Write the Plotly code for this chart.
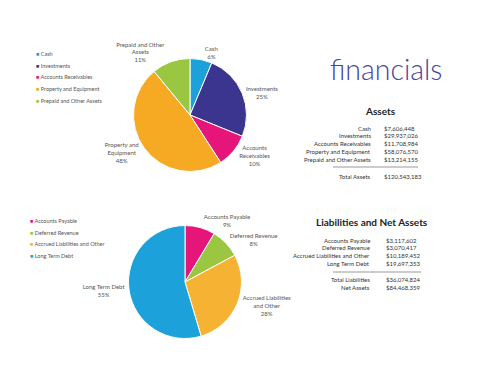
import plotly.graph_objects as go

# ---------------- data ----------------
asset_labels = ["Cash", "Investments", "Accounts Receivables", "Property and Equipment", "Prepaid and Other Assets"]
asset_text = ["Cash", "Investments", "Accounts<br>Receivables", "Property and<br>Equipment", "Prepaid and Other<br>Assets"]
asset_values = [7606448, 29937026, 11708984, 58076570, 13214155]
asset_colors = ["#1DA1DA", "#3C358F", "#E5157A", "#F6A922", "#9BC641"]

liab_labels = ["Accounts Payable", "Deferred Revenue", "Accrued Liabilities and Other", "Long Term Debt"]
liab_text = ["Accounts Payable", "Deferred Revenue", "Accrued Liabilities<br>and Other", "Long Term Debt"]
liab_values = [3117602, 3070417, 10189452, 19697353]
liab_colors = ["#E5157A", "#9BC641", "#F6B233", "#1DA1DA"]

net_assets = 84468359

# page body has an 8px margin, so the figure is offset by 8px
OFF = 8
W, H = 480 - OFF, 371 - OFF


def px(x):
    return (x - OFF) / W


def py(y):
    return 1 - (y - OFF) / H


def pct_largest_remainder(vals):
    tot = sum(vals)
    raw = [v * 100 / tot for v in vals]
    fl = [int(r) for r in raw]
    rem = 100 - sum(fl)
    order = sorted(range(len(vals)), key=lambda i: raw[i] - fl[i], reverse=True)
    for i in order[:rem]:
        fl[i] += 1
    return fl


def money(v):
    return f"${v:,}"


asset_pct = pct_largest_remainder(asset_values)
liab_pct = pct_largest_remainder(liab_values)

label_font = dict(family="Lato, sans-serif", size=6, color="#555555")


def dom(cx, cy, r):
    return dict(x=[px(cx - r), px(cx + r)], y=[py(cy + r), py(cy - r)])


fig = go.Figure()
fig.add_trace(go.Pie(
    labels=asset_labels, values=asset_values, sort=False, direction="clockwise", rotation=0,
    marker=dict(colors=asset_colors, line=dict(color="white", width=1)),
    text=[f"{t}<br>{p}%" for t, p in zip(asset_text, asset_pct)],
    textinfo="text", textposition="outside", outsidetextfont=label_font,
    domain=dom(190, 115, 56.5), showlegend=False, hoverinfo="label+value",
))
fig.add_trace(go.Pie(
    labels=liab_labels, values=liab_values, sort=False, direction="clockwise", rotation=0,
    marker=dict(colors=liab_colors, line=dict(color="white", width=1)),
    text=[f"{t}<br>{p}%" for t, p in zip(liab_text, liab_pct)],
    textinfo="text", textposition="outside", outsidetextfont=label_font,
    domain=dom(185, 282, 56.5), showlegend=False, hoverinfo="label+value",
))

annotations = []
shapes = []

# custom legends
leg_font = dict(family="Lato, sans-serif", size=5.5, color="#555555")
for i, (lab, col) in enumerate(zip(asset_labels, asset_colors)):
    y = 54 + i * 11.7
    annotations.append(dict(x=px(34), y=py(y), xref="paper", yref="paper", xanchor="left", yanchor="middle",
                            text=f"<span style='color:{col}'>■</span> {lab}", showarrow=False, font=leg_font))
for i, (lab, col) in enumerate(zip(liab_labels, liab_colors)):
    y = 221 + i * 11.7
    annotations.append(dict(x=px(28), y=py(y), xref="paper", yref="paper", xanchor="left", yanchor="middle",
                            text=f"<span style='color:{col}'>■</span> {lab}", showarrow=False, font=leg_font))

# title
annotations.append(dict(x=px(386), y=py(69), xref="paper", yref="paper", xanchor="center", yanchor="middle",
                        text="financials", showarrow=False,
                        font=dict(family="Lato, sans-serif", size=28.5, color="#4A4599", weight=300)))

tab_font = dict(family="Lato, sans-serif", size=6, color="#333333")
head_font = dict(family="Lato, sans-serif", size=10, color="#222222", weight="bold")


def table(heading, hx, hy, rows, row_y0, totals, line_y, tot_y0, x_lab, x_val, lx0, lx1):
    annotations.append(dict(x=px(hx), y=py(hy), xref="paper", yref="paper", xanchor="center", yanchor="middle",
                            text=f"<b>{heading}</b>", showarrow=False, font=head_font))
    for i, (lab, v) in enumerate(rows):
        y = row_y0 + i * 7.9
        annotations.append(dict(x=px(x_lab), y=py(y), xref="paper", yref="paper", xanchor="right",
                                yanchor="middle", text=lab, showarrow=False, font=tab_font))
        annotations.append(dict(x=px(x_val), y=py(y), xref="paper", yref="paper", xanchor="left",
                                yanchor="middle", text=money(v), showarrow=False, font=tab_font))
    for i, (lab, v) in enumerate(totals):
        y = tot_y0 + i * 7.9
        annotations.append(dict(x=px(x_lab), y=py(y), xref="paper", yref="paper", xanchor="right",
                                yanchor="middle", text=lab, showarrow=False, font=tab_font))
        annotations.append(dict(x=px(x_val), y=py(y), xref="paper", yref="paper", xanchor="left",
                                yanchor="middle", text=money(v), showarrow=False, font=tab_font))
    shapes.append(dict(type="line", xref="paper", yref="paper", x0=px(lx0), x1=px(lx1),
                       y0=py(line_y), y1=py(line_y), line=dict(color="#999999", width=1)))


table("Assets", 380, 111, list(zip(asset_labels, asset_values)), 128,
      [("Total Assets", sum(asset_values))], 167, 177, 373, 382, 333, 418)
table("Liabilities and Net Assets", 372, 222, list(zip(liab_labels, liab_values)), 240,
      [("Total Liabilities", sum(liab_values)), ("Net Assets", net_assets)], 272, 279.5, 372, 384, 333, 421)

fig.update_layout(
    width=W, height=H, margin=dict(l=0, r=0, t=0, b=0),
    paper_bgcolor="white", plot_bgcolor="white",
    annotations=annotations, shapes=shapes, showlegend=False,
)
fig.write_html("out.html")
